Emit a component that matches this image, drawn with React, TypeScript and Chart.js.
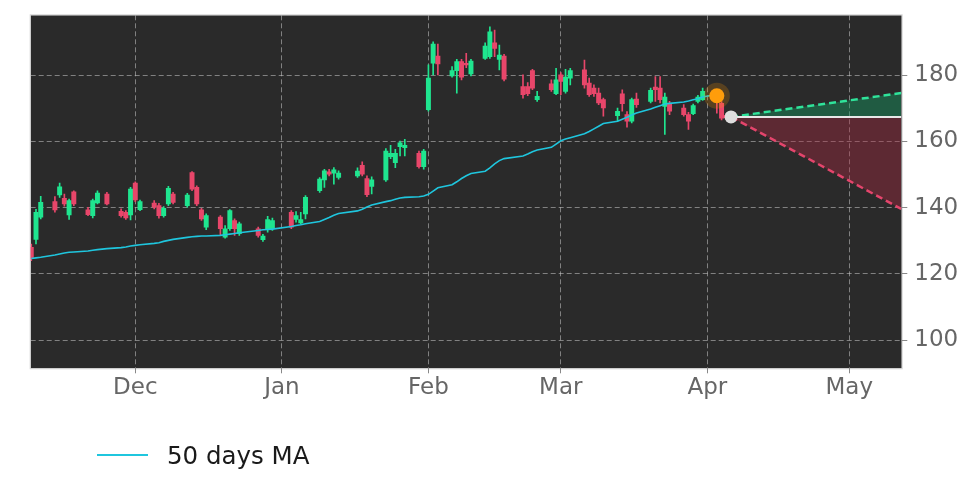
import { useEffect, useRef } from "react";
import Chart from "chart.js/auto";
import type { ChartConfiguration } from "chart.js";

// trading days, Nov 2022 - Apr 2023
const DATES = [
  "2022-11-09", "2022-11-10", "2022-11-11", "2022-11-14", "2022-11-15", "2022-11-16", "2022-11-17", "2022-11-18",
  "2022-11-21", "2022-11-22", "2022-11-23", "2022-11-25", "2022-11-28", "2022-11-29", "2022-11-30",
  "2022-12-01", "2022-12-02", "2022-12-05", "2022-12-06", "2022-12-07", "2022-12-08", "2022-12-09",
  "2022-12-12", "2022-12-13", "2022-12-14", "2022-12-15", "2022-12-16", "2022-12-19", "2022-12-20",
  "2022-12-21", "2022-12-22", "2022-12-23", "2022-12-27", "2022-12-28", "2022-12-29", "2022-12-30",
  "2023-01-03", "2023-01-04", "2023-01-05", "2023-01-06", "2023-01-09", "2023-01-10", "2023-01-11",
  "2023-01-12", "2023-01-13", "2023-01-17", "2023-01-18", "2023-01-19", "2023-01-20", "2023-01-23",
  "2023-01-24", "2023-01-25", "2023-01-26", "2023-01-27", "2023-01-30", "2023-01-31",
  "2023-02-01", "2023-02-02", "2023-02-03", "2023-02-06", "2023-02-07", "2023-02-08", "2023-02-09",
  "2023-02-10", "2023-02-13", "2023-02-14", "2023-02-15", "2023-02-16", "2023-02-17", "2023-02-21",
  "2023-02-22", "2023-02-23", "2023-02-24", "2023-02-27", "2023-02-28",
  "2023-03-01", "2023-03-02", "2023-03-03", "2023-03-06", "2023-03-07", "2023-03-08", "2023-03-09",
  "2023-03-10", "2023-03-13", "2023-03-14", "2023-03-15", "2023-03-16", "2023-03-17", "2023-03-20",
  "2023-03-21", "2023-03-22", "2023-03-23", "2023-03-24", "2023-03-27", "2023-03-28", "2023-03-29",
  "2023-03-30", "2023-03-31", "2023-04-03", "2023-04-04", "2023-04-05", "2023-04-06",
];

const OPEN = [
  128.0, 130.4, 137.1, 141.8, 143.8, 142.8, 137.8, 144.8, 139.3, 137.6, 141.4, 144.1, 138.9, 138.6, 137.8,
  147.4, 139.4, 141.4, 140.6, 137.6, 141.1, 144.1, 140.6, 150.6, 146.1, 139.3, 134.1, 137.1, 131.1,
  133.6, 136.1, 132.1, 133.6, 130.3, 133.6, 133.6,
  138.6, 136.4, 135.4, 138.1, 145.1, 148.4, 150.8, 150.4, 149.1, 149.6, 152.8, 148.8, 146.4, 148.4,
  155.4, 153.6, 158.4, 158.1, 156.4, 152.4,
  169.6, 183.6, 185.8, 179.8, 181.4, 184.1, 183.6, 180.4, 185.1, 185.6, 189.8, 184.8, 185.8, 176.6,
  176.6, 181.4, 172.6, 177.4, 174.4,
  180.1, 175.1, 179.1, 181.6, 177.6, 176.1, 174.6, 172.6, 167.8, 174.4, 168.1, 166.1, 172.8, 172.1,
  176.4, 176.1, 170.6, 171.4, 170.1, 168.1, 168.4, 172.1, 172.6, 174.8, 171.5, 167.9, 167.1,
];

const HIGH = [
  129.0, 139.5, 143.4, 143.3, 147.4, 144.1, 142.6, 145.1, 140.1, 142.6, 145.1, 144.6, 139.6, 139.1, 146.1,
  147.8, 142.3, 142.1, 141.3, 140.3, 146.4, 144.6, 144.3, 150.9, 146.6, 139.8, 138.1, 137.6, 134.6,
  139.4, 136.6, 135.6, 134.1, 131.9, 137.4, 136.8,
  139.1, 138.8, 138.6, 143.6, 149.1, 151.6, 151.6, 152.1, 151.1, 152.0, 153.8, 149.6, 149.3, 157.8,
  158.8, 157.6, 160.1, 160.6, 157.1, 157.6,
  183.1, 190.1, 189.4, 182.6, 184.8, 184.8, 186.6, 184.8, 189.8, 194.6, 193.6, 189.1, 186.3, 180.1,
  177.8, 181.8, 175.1, 178.6, 182.1,
  180.8, 181.8, 182.1, 184.6, 179.1, 177.1, 176.1, 173.1, 170.1, 175.6, 169.0, 173.1, 174.6, 176.1,
  179.6, 179.6, 174.6, 172.1, 171.1, 168.8, 171.3, 173.9, 176.1, 175.4, 172.0, 168.4, 168.0,
];

const LOW = [
  124.0, 129.0, 136.6, 138.6, 143.1, 140.4, 136.4, 140.6, 137.6, 136.9, 141.1, 140.8, 137.1, 136.4, 136.3,
  141.8, 139.1, 139.6, 136.8, 137.1, 140.6, 141.1, 140.1, 145.1, 140.6, 136.1, 133.3, 131.8, 130.8,
  133.1, 131.6, 131.6, 131.1, 129.8, 132.6, 133.1,
  133.6, 135.6, 135.1, 136.6, 144.6, 146.1, 149.6, 147.1, 148.6, 149.1, 149.6, 143.3, 144.1, 147.9,
  154.8, 152.1, 155.6, 155.6, 151.9, 151.6,
  169.1, 180.1, 180.1, 179.4, 174.6, 178.6, 182.3, 179.8, 184.8, 185.1, 185.6, 181.6, 178.3, 173.1,
  173.8, 175.6, 172.1, 175.1, 174.1,
  174.1, 174.6, 177.1, 176.1, 173.6, 173.6, 171.1, 167.6, 166.1, 169.1, 164.3, 165.6, 170.3, 171.6,
  172.1, 171.6, 162.1, 168.1, 167.6, 163.6, 168.1, 171.6, 172.4, 168.5, 166.5, 166.6, 166.9,
];

const CLOSE = [
  124.6, 138.6, 141.6, 139.3, 146.3, 141.1, 142.1, 141.1, 137.9, 142.1, 144.4, 141.1, 137.6, 136.9, 145.6,
  142.3, 141.8, 140.1, 137.6, 139.8, 145.8, 141.6, 143.8, 145.6, 141.1, 136.6, 137.6, 133.6, 133.6,
  139.1, 133.6, 135.1, 131.6, 131.4, 136.4, 136.1,
  134.1, 137.6, 136.4, 143.1, 148.6, 151.1, 150.1, 151.4, 150.4, 151.0, 150.1, 143.9, 148.4, 157.1,
  156.4, 156.4, 159.6, 158.8, 152.4, 157.1,
  179.1, 189.4, 183.4, 181.4, 184.1, 179.4, 183.1, 184.3, 188.8, 193.1, 188.1, 186.1, 178.8, 174.1,
  174.4, 176.1, 173.6, 175.6, 178.6,
  178.1, 179.4, 181.4, 177.1, 174.1, 174.4, 171.6, 170.1, 169.1, 171.4, 166.1, 172.6, 171.1, 175.4,
  175.6, 172.6, 173.4, 169.1, 168.1, 166.1, 170.8, 173.4, 175.1, 172.0, 167.0, 167.2, 167.6,
];

const MA50 = [
  124.6, 124.8, 125.0, 125.7, 126.0, 126.3, 126.5, 126.6, 126.9, 127.1, 127.3, 127.6, 127.9, 128.1, 128.4,
  128.6, 128.8, 129.2, 129.4, 129.8, 130.1, 130.4, 131.0, 131.2, 131.3, 131.4, 131.4, 131.6, 131.8,
  132.0, 132.2, 132.4, 133.1, 133.3, 133.4, 133.5,
  134.3, 134.6, 134.8, 135.1, 135.8, 136.4, 137.0, 137.7, 138.2, 139.0, 139.5, 140.2, 140.8, 141.8,
  142.1, 142.5, 142.9, 143.1, 143.3, 143.5,
  144.0, 145.0, 146.0, 146.9, 147.8, 148.8, 149.6, 150.3, 151.0, 152.0, 153.2, 154.2, 154.8, 155.6,
  156.2, 156.9, 157.4, 158.2, 159.2,
  160.2, 160.7, 161.1, 162.3, 163.0, 163.8, 164.6, 165.4, 166.1, 166.7, 167.3, 168.0, 168.6, 169.8,
  170.3, 170.8, 171.3, 171.5, 171.9, 172.2, 172.6, 172.9, 173.4, 174.2, null, null, null,
];

const MONTH_TICKS = ["2022-12-01", "2023-01-01", "2023-02-01", "2023-03-01", "2023-04-01", "2023-05-01"];
const MONTH_LABELS = ["Dec", "Jan", "Feb", "Mar", "Apr", "May"];
const PRICE_TICKS = [100, 120, 140, 160, 180];

// forecast cone
const CONE_DATES = ["2023-04-06", "2023-05-12"];
const CONE_UPPER = [167.4, 174.6];
const CONE_MID = [167.4, 167.4];
const CONE_LOWER = [167.4, 139.6];

const SIGNAL_DATE = "2023-04-03";
const SIGNAL_PRICE = 173.8;
const LAST_DATE = "2023-04-06";
const LAST_PRICE = 167.4;

const ORIGIN = "2022-12-01";
const X_RANGE = [-22.12, 162.1];
const Y_RANGE = [91.45, 198.1];

const GREEN = "#1fe58f";
const RED = "#e8466a";
const FONT = "'DejaVu Sans', sans-serif";

const toDay = (s: string) => (Date.parse(s + "T00:00:00Z") - Date.parse(ORIGIN + "T00:00:00Z")) / 86400000;
const pts = (dates: string[], vals: (number | null)[]) => dates.map((d, i) => ({ x: toDay(d), y: vals[i] }));

const plotBackground = {
  id: "plotBackground",
  beforeDraw(chart: Chart) {
    const { ctx, chartArea: a } = chart;
    ctx.save();
    ctx.fillStyle = "#2a2a2a";
    ctx.fillRect(a.left, a.top, a.right - a.left, a.bottom - a.top);
    ctx.strokeStyle = "#d4d4d4";
    ctx.lineWidth = 1;
    ctx.strokeRect(a.left - 0.5, a.top - 0.5, a.right - a.left + 1, a.bottom - a.top + 1);
    ctx.restore();
  },
};

const noPadding = (axis: any) => {
  axis.paddingTop = 0;
  axis.paddingBottom = 0;
  axis.paddingLeft = 0;
  axis.paddingRight = 0;
};

export default function App() {
  const canvasRef = useRef<HTMLCanvasElement | null>(null);

  useEffect(() => {
    if (!canvasRef.current) return;
    const colors = DATES.map((_, i) => (CLOSE[i] >= OPEN[i] ? GREEN : RED));
    const wicks = DATES.map((d, i) => ({ x: toDay(d), y: [LOW[i], HIGH[i]] }));
    const bodies = DATES.map((d, i) => ({ x: toDay(d), y: [OPEN[i], CLOSE[i]] }));

    const config: ChartConfiguration<"bar" | "line"> = {
      type: "bar",
      data: {
        datasets: [
          {
            type: "line",
            data: pts(CONE_DATES, CONE_MID),
            borderColor: "#e8e8e8",
            borderWidth: 2,
            pointRadius: 0,
            order: 1,
          },
          {
            type: "line",
            data: pts(CONE_DATES, CONE_UPPER),
            borderColor: "#2fe39a",
            borderWidth: 2.5,
            borderDash: [7, 4],
            pointRadius: 0,
            fill: { target: 0 },
            backgroundColor: "rgba(20,150,95,0.45)",
            order: 2,
          },
          {
            type: "line",
            data: pts(CONE_DATES, CONE_LOWER),
            borderColor: "#e4456c",
            borderWidth: 2.5,
            borderDash: [7, 4],
            pointRadius: 0,
            fill: { target: 0 },
            backgroundColor: "rgba(170,40,65,0.4)",
            order: 2,
          },
          {
            type: "line",
            label: "50 days MA",
            data: pts(DATES, MA50),
            borderColor: "#1fc6de",
            borderWidth: 1.6,
            pointRadius: 0,
            spanGaps: false,
            order: 3,
          },
          {
            type: "bar",
            data: bodies as any,
            backgroundColor: colors,
            barThickness: 4.3,
            minBarLength: 1,
            grouped: false,
            order: 4,
          },
          {
            type: "bar",
            data: wicks as any,
            backgroundColor: colors,
            barThickness: 1,
            grouped: false,
            order: 5,
          },
          {
            type: "line",
            data: pts([SIGNAL_DATE], [SIGNAL_PRICE]),
            pointRadius: 13,
            pointBackgroundColor: "rgba(255,150,0,0.22)",
            pointBorderWidth: 0,
            showLine: false,
            order: 0,
          },
          {
            type: "line",
            data: pts([SIGNAL_DATE], [SIGNAL_PRICE]),
            pointRadius: 7.5,
            pointBackgroundColor: "#ff9f0f",
            pointBorderWidth: 0,
            showLine: false,
            order: 0,
          },
          {
            type: "line",
            data: pts([LAST_DATE], [LAST_PRICE]),
            pointRadius: 6.5,
            pointBackgroundColor: "#dedede",
            pointBorderWidth: 0,
            showLine: false,
            order: 0,
          },
        ],
      },
      options: {
        animation: false,
        responsive: true,
        maintainAspectRatio: false,
        layout: { padding: { left: 30.7, top: 15.3, right: 0, bottom: 77.7 } },
        plugins: {
          legend: { display: false },
          tooltip: { enabled: false },
        },
        scales: {
          x: {
            type: "linear",
            min: X_RANGE[0],
            max: X_RANGE[1],
            offset: false,
            afterBuildTicks: (axis) => {
              axis.ticks = MONTH_TICKS.map((d) => ({ value: toDay(d) }));
            },
            afterFit: (axis) => {
              axis.height = 40;
              noPadding(axis);
            },
            grid: { color: "rgba(200,200,200,0.55)", tickColor: "#888", tickLength: 5, offset: false },
            border: { display: false, dash: [5, 3] },
            ticks: {
              color: "#666",
              font: { family: FONT, size: 23 },
              padding: 1,
              maxRotation: 0,
              autoSkip: false,
              callback: (_v, i) => MONTH_LABELS[i],
            },
          },
          y: {
            type: "linear",
            position: "right",
            min: Y_RANGE[0],
            max: Y_RANGE[1],
            afterBuildTicks: (axis) => {
              axis.ticks = PRICE_TICKS.map((v) => ({ value: v }));
            },
            afterFit: (axis) => {
              axis.width = 70.3;
              noPadding(axis);
            },
            grid: { color: "rgba(200,200,200,0.55)", tickColor: "#888", tickLength: 5.6 },
            border: { display: false, dash: [5, 3] },
            ticks: {
              color: "#666",
              font: { family: FONT, size: 23 },
              padding: 7,
              callback: (v) => String(v),
            },
          },
        },
      },
      plugins: [plotBackground],
    };

    const chart = new Chart(canvasRef.current, config);
    return () => chart.destroy();
  }, []);

  return (
    <div style={{ position: "absolute", left: 0, top: 0, width: 972, height: 486, background: "#fff" }}>
      <canvas ref={canvasRef} />
      <div style={{ position: "absolute", left: 97, top: 454, width: 51, height: 1.5, background: "#1fc6de" }} />
      <div
        style={{
          position: "absolute",
          left: 167,
          top: 444,
          fontFamily: FONT,
          fontSize: 24.5,
          lineHeight: "24px",
          color: "#1a1a1a",
          whiteSpace: "nowrap",
        }}
      >
        50 days MA
      </div>
    </div>
  );
}
